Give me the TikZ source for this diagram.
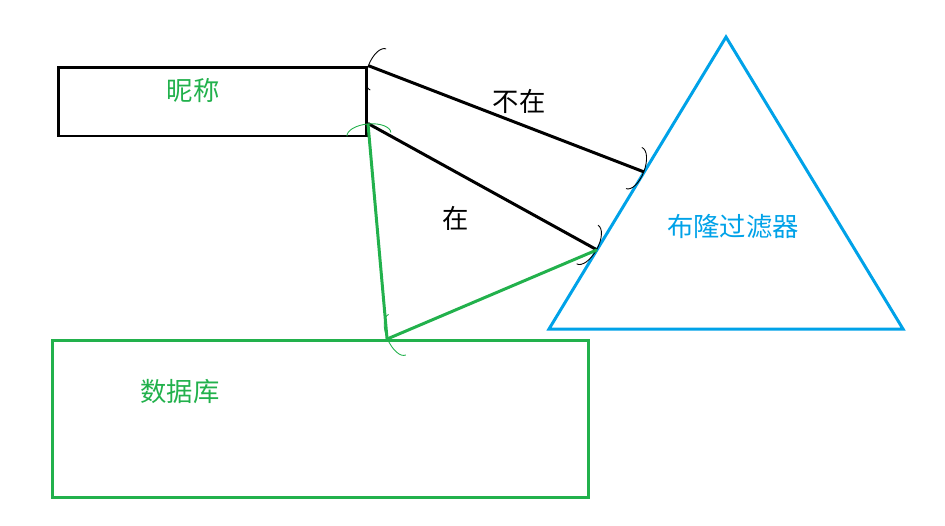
\documentclass[tikz,border=0pt]{standalone}
\usepackage{fontspec}
\usepackage{tikz}
\usetikzlibrary{arrows.meta,calc}
\setmainfont{Noto Sans CJK SC}
\definecolor{bfGreen}{HTML}{22B14C}
\definecolor{bfBlue}{HTML}{00A2E8}

\begin{document}
\begin{tikzpicture}[x=0.02cm,y=-0.02cm,
  box/.style={draw,line width=1.7pt,inner sep=0pt},
  word/.style={font=\fontsize{15}{18}\selectfont},
  >={Arc Barb[length=2.2mm,width=9mm,line width=0.5pt]},
  hand/.style={line width=1.7pt,->}]
\useasboundingbox (0,0) rectangle (945,525);
% boxes
\node[box,minimum width=6.16cm,minimum height=1.38cm] (nick) at (212.5,101.5) {};
\node[box,bfGreen,minimum width=10.72cm,minimum height=3.14cm] (db) at (320.5,419) {};
\node[word,bfGreen] (nickText) at (193,91) {昵称};
\node[word,bfGreen] (dbText) at (180,392) {数据库};
% bloom filter
\coordinate (apex) at (726,37);
\coordinate (baseL) at (549,329);
\coordinate (baseR) at (903,329);
\draw[bfBlue,line width=1.7pt,line join=miter] (apex) -- (baseR) -- (baseL) -- cycle;
\node[word,bfBlue] (bfText) at (733,227) {布隆过滤器};
% connector ends
\coordinate (nickTop) at (nick.north east);
\coordinate (nickLow) at ($(nick.south east)+(0,-14)$);
\coordinate (bfHigh) at ($(apex)!0.4623!(baseL)$);
\coordinate (bfLow) at ($(apex)!0.729!(baseL)$);
\coordinate (dbTop) at ($(db.north west)+(336,0)$);
% flow
\draw[hand,<->] (nickTop) -- (bfHigh);
\node[word] (notIn) at (519,101) {不在};
\draw[hand] (nickLow) -- (bfLow);
\node[word] (isIn) at (456,218) {在};
\draw[hand,bfGreen] (bfLow) -- (dbTop);
\draw[hand,bfGreen] (dbTop) -- (nickLow);
\end{tikzpicture}
\end{document}
